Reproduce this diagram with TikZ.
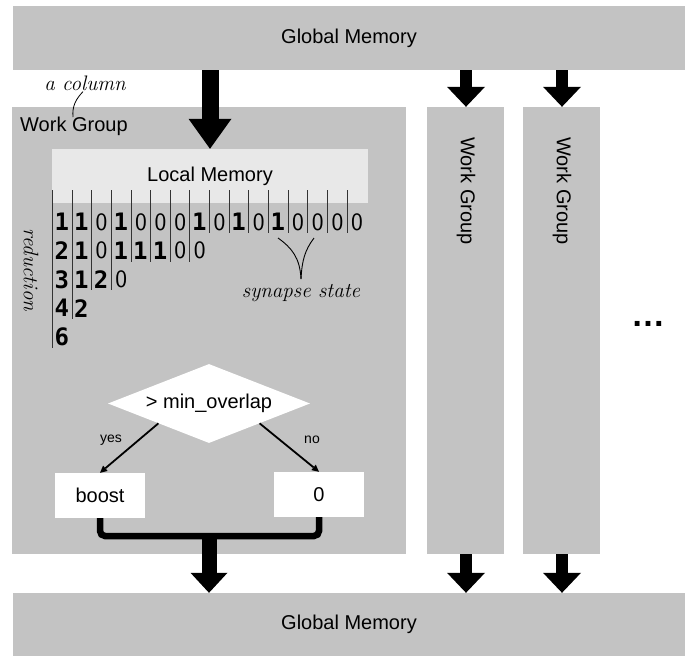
\documentclass[tikz,border=0pt]{standalone}
\usepackage{fontspec}
\setmainfont{Liberation Sans}
\newfontfamily\digb{DejaVu Sans Mono}
\newfontfamily\digl{Latin Modern Sans}
\newfontfamily\annot{Latin Modern Roman}
\usetikzlibrary{arrows.meta,shapes.geometric}
\definecolor{wggray}{RGB}{195,195,195}
\definecolor{lmgray}{RGB}{232,232,232}
\tikzset{
  membox/.style={fill=wggray,inner sep=0pt,font=\fontsize{20}{24}\selectfont},
  wgbox/.style={fill=wggray,inner sep=0pt,minimum width=77,minimum height=447},
  whitebox/.style={fill=white,inner sep=0pt,minimum width=90,minimum height=45,font=\fontsize{20}{24}\selectfont},
  note/.style={font=\annot\itshape\fontsize{21}{24}\selectfont,inner sep=0pt},
  bigarrow/.style={line width=12.5pt,-{Triangle[length=20pt,width=38pt,line width=0pt]}},
  smallarrow/.style={line width=1.8pt,-{Triangle[length=7pt,width=7pt,line width=0pt]}},
  bitb/.style={font=\digb\bfseries\fontsize{24}{26}\selectfont,inner sep=0pt},
  bitl/.style={font=\digl\fontsize{25}{27}\selectfont,inner sep=0pt},
  sep/.style={draw=black!80,line width=0.8pt},
}
\begin{document}
\begin{tikzpicture}[x=1pt,y=-1pt]
\useasboundingbox (0,0) rectangle (691,656);
% memories and work groups
\node[membox,minimum width=672,minimum height=64] (gtop) at (349,38) {Global Memory};
\node[membox,minimum width=672,minimum height=63] (gbot) at (349,624.5) {Global Memory};
\node[fill=wggray,inner sep=0pt,minimum width=394,minimum height=447] (wg1) at (209,330.5) {};
\node[wgbox] (wg2) at (465.5,330.5) {};
\node[wgbox] (wg3) at (561.5,330.5) {};
\node[rotate=-90,font=\fontsize{20}{24}\selectfont] (wg2t) at (466,191) {Work Group};
\node[rotate=-90,font=\fontsize{20}{24}\selectfont] (wg3t) at (562,191) {Work Group};
\node[anchor=west,inner sep=0pt,font=\fontsize{20}{24}\selectfont] (wg1t) at (20,126) {Work Group};
\node[fill=lmgray,inner sep=0pt,minimum width=316,minimum height=54,font=\fontsize{20}{24}\selectfont] (local) at (210,176) {Local Memory};
\node[font=\bfseries\fontsize{34}{36}\selectfont] (dots) at (648,324) {\dots};
% annotation a column
\node[note] (acol) at (85,83) {a column};
\coordinate (acolpt) at (73,117);
\draw[line width=0.8pt] ([xshift=-2pt,yshift=-1pt]acol.south) .. controls (76,99) and (72,106) .. (acolpt);
% top arrows
\coordinate (a1) at (210,0);
\coordinate (a2) at (466,0);
\coordinate (a3) at (562,0);
\draw[line width=17pt,-{Triangle[length=30pt,width=43pt,line width=0pt]}] (gtop.south -| a1) -- (local.north -| a1);
\draw[bigarrow] (gtop.south -| a2) -- (wg2.north -| a2);
\draw[bigarrow] (gtop.south -| a3) -- (wg3.north -| a3);
\draw[bigarrow] (wg2.south -| a2) -- (gbot.north -| a2);
\draw[bigarrow] (wg3.south -| a3) -- (gbot.north -| a3);
% table
\foreach \c/\r in {0/4,1/3,2/2,3/2,4/1,5/1,6/1,7/1,8/0,9/0,10/0,11/0,12/0,13/0,14/0,15/0}
  \draw[sep] ({52.3+19.65*\c},190) -- ({52.3+19.65*\c},{222+28.7*\r+11});
\foreach \row [count=\r from 0] in {{1,1,0,1,0,0,0,1,0,1,0,1,0,0,0,0},{2,1,0,1,1,1,0,0},{3,1,2,0},{4,2},{6}}{
  \foreach \d [count=\c from 0] in \row {
    \ifnum\d=0
      \node[bitl] at ({52.3+19.65*\c+10},{222+28.7*\r}) {0};
    \else
      \node[bitb] at ({52.3+19.65*\c+9.5},{222+28.7*\r}) {\d};
    \fi
  }
}
\node[note,rotate=-90] (red) at (31,270) {reduction};
% synapse state
\node[note] (syn) at (301,293) {synapse state};
\coordinate (synpt) at (301,279);
\draw[line width=0.9pt] (278,238) .. controls (292,248) and (300,258) .. (synpt);
\draw[line width=0.9pt] (314,238) .. controls (305,250) and (302,260) .. (synpt);
% decision
\node[diamond,aspect=2.56,fill=white,inner sep=0pt,minimum width=202,minimum height=79,font=\fontsize{20}{24}\selectfont] (dec) at (209,403.5) {> min\_overlap};
\node[whitebox] (boost) at (100,495.5) {boost};
\node[whitebox] (zero) at (319,494.5) {0};
\draw[smallarrow] (dec.south west) -- (boost.north);
\draw[smallarrow] (dec.south east) -- (zero.north);
\node[font=\fontsize{14}{16}\selectfont] (yes) at (111,440) {yes};
\node[font=\fontsize{14}{16}\selectfont] (no) at (312,440) {no};
% bracket and bottom arrow
\coordinate (brk) at (0,536);
\coordinate (a0) at (209,0);
\draw[line width=6.5pt,rounded corners=5pt] (boost.south) -- (boost.south |- brk) -- (zero.south |- brk) -- (zero.south);
\draw[line width=15pt,-{Triangle[length=20pt,width=37pt,line width=0pt]}] (a0 |- brk) -- (gbot.north -| a0);
\end{tikzpicture}
\end{document}
